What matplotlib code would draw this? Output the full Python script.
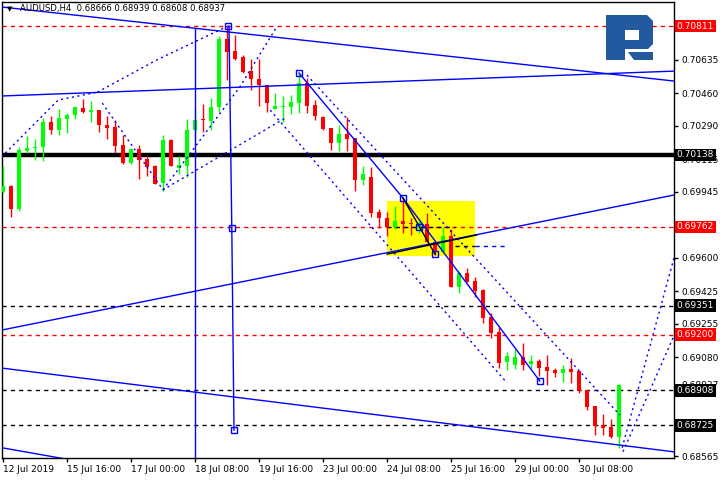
import matplotlib
matplotlib.use("Agg")
import matplotlib.pyplot as plt
from matplotlib.patches import Rectangle, Polygon
import numpy as np

# AUDUSD H4, bar 0 = 12 Jul 2019 08:00, last bar = 30 Jul 2019 20:00
opens = [0.69944, 0.69976, 0.69856, 0.70158, 0.70174, 0.70179, 0.70310, 0.70268, 0.70325, 0.70346,
         0.70383, 0.70362, 0.70372, 0.70294, 0.70284, 0.70190, 0.70096, 0.70169, 0.70117, 0.70080,
         0.69991, 0.70216, 0.70070, 0.70080, 0.70268, 0.70325, 0.70315, 0.70388, 0.70743, 0.70681,
         0.70649, 0.70576, 0.70534, 0.70503, 0.70378, 0.70388, 0.70388, 0.70409, 0.70514, 0.70399,
         0.70336, 0.70278, 0.70200, 0.70247, 0.70226, 0.70007, 0.70023, 0.69840, 0.69808, 0.69761,
         0.69793, 0.69782, 0.69756, 0.69777, 0.69683, 0.69631, 0.69714, 0.69448, 0.69521, 0.69479,
         0.69432, 0.69291, 0.69213, 0.69056, 0.69041, 0.69082, 0.69046, 0.69062, 0.69030, 0.69015,
         0.68999, 0.69020, 0.69009, 0.68910, 0.68826, 0.68727, 0.68717, 0.68666]
highs = [0.70080, 0.69981, 0.70179, 0.70237, 0.70221, 0.70331, 0.70341, 0.70378, 0.70357, 0.70388,
         0.70430, 0.70419, 0.70372, 0.70341, 0.70320, 0.70242, 0.70169, 0.70190, 0.70132, 0.70085,
         0.70242, 0.70221, 0.70132, 0.70325, 0.70378, 0.70404, 0.70435, 0.70759, 0.70811, 0.70764,
         0.70660, 0.70639, 0.70639, 0.70503, 0.70461, 0.70446, 0.70451, 0.70566, 0.70540, 0.70425,
         0.70341, 0.70278, 0.70294, 0.70336, 0.70226, 0.70080, 0.70075, 0.69856, 0.69840, 0.69871,
         0.69913, 0.69808, 0.69793, 0.69834, 0.69683, 0.69761, 0.69751, 0.69532, 0.69547, 0.69500,
         0.69438, 0.69312, 0.69239, 0.69109, 0.69124, 0.69156, 0.69093, 0.69072, 0.69093, 0.69025,
         0.69041, 0.69077, 0.69009, 0.68910, 0.68826, 0.68785, 0.68759, 0.68939]
lows = [0.69939, 0.69814, 0.69845, 0.70148, 0.70111, 0.70106, 0.70247, 0.70242, 0.70252, 0.70325,
        0.70357, 0.70310, 0.70258, 0.70221, 0.70148, 0.70091, 0.70091, 0.70012, 0.70028, 0.69986,
        0.69950, 0.70080, 0.70038, 0.70023, 0.70216, 0.70258, 0.70268, 0.70362, 0.70529, 0.70634,
        0.70566, 0.70477, 0.70393, 0.70362, 0.70378, 0.70310, 0.70352, 0.70357, 0.70357, 0.70320,
        0.70268, 0.70164, 0.70158, 0.70158, 0.69950, 0.69981, 0.69814, 0.69756, 0.69714, 0.69751,
        0.69730, 0.69720, 0.69730, 0.69683, 0.69615, 0.69631, 0.69448, 0.69417, 0.69474, 0.69396,
        0.69260, 0.69182, 0.69025, 0.69015, 0.69020, 0.69015, 0.69025, 0.68983, 0.68936, 0.68978,
        0.68952, 0.68947, 0.68894, 0.68805, 0.68675, 0.68675, 0.68659, 0.68608]
closes = [0.69976, 0.69856, 0.70164, 0.70174, 0.70179, 0.70310, 0.70268, 0.70331, 0.70346, 0.70388,
          0.70362, 0.70372, 0.70294, 0.70278, 0.70185, 0.70096, 0.70169, 0.70111, 0.70075, 0.69986,
          0.70216, 0.70080, 0.70085, 0.70268, 0.70320, 0.70320, 0.70388, 0.70743, 0.70675, 0.70639,
          0.70571, 0.70534, 0.70503, 0.70409, 0.70393, 0.70393, 0.70414, 0.70514, 0.70393, 0.70341,
          0.70273, 0.70200, 0.70247, 0.70221, 0.70007, 0.70038, 0.69834, 0.69808, 0.69761, 0.69793,
          0.69777, 0.69777, 0.69782, 0.69683, 0.69631, 0.69714, 0.69448, 0.69521, 0.69474, 0.69427,
          0.69286, 0.69208, 0.69051, 0.69088, 0.69082, 0.69041, 0.69062, 0.69025, 0.69009, 0.68999,
          0.69020, 0.69004, 0.68905, 0.68821, 0.68722, 0.68712, 0.68666, 0.68937]

date_ticks = [0, 8, 16, 24, 32, 40, 48, 56, 64, 72]
date_labels = ["12 Jul 2019", "15 Jul 16:00", "17 Jul 00:00", "18 Jul 08:00", "19 Jul 16:00",
               "23 Jul 00:00", "24 Jul 08:00", "25 Jul 16:00", "29 Jul 00:00", "30 Jul 08:00"]

price_ticks = [0.70635, 0.70460, 0.70290, 0.70115, 0.69945, 0.69600, 0.69425,
               0.69255, 0.69080, 0.68937, 0.68565]

# horizontal levels and the colour of their line / price box
levels = [0.70811, 0.70138, 0.69762, 0.69351, 0.69200, 0.68908, 0.68725]
level_colors = ["red", "black", "red", "black", "red", "black", "black"]

# trend lines (bar, price)
line_top = [(-0.2, 0.70911), (83.9, 0.70524)]
line_mid = [(-0.2, 0.70446), (83.9, 0.70576)]
line_up = [(-0.2, 0.69223), (83.9, 0.69929)]
line_low = [(-0.2, 0.69025), (83.9, 0.68587)]
line_low2 = [(-0.2, 0.68609), (20.0, 0.68460)]
vline_a = [(24.0, 0.70801), (24.0, 0.68500)]
vline_b = [(28.25, 0.70811), (28.6, 0.69756), (28.875, 0.68701)]
chan_main = [(37.0, 0.70566), (50.0, 0.69913), (67.1, 0.68957)]
tri_black = [(50.0, 0.69913), (54.0, 0.69620)]
black_up = [(48.0, 0.69620), (59.2, 0.69720)]
stop_black = [(56.5, 0.69662), (59.0, 0.69662)]
stop_blue = [(59.0, 0.69662), (63.0, 0.69662)]
level_in_box = [(48.0, 0.69762), (56.5, 0.69762)]
markers = [(28.1, 0.70811), (28.6, 0.69756), (28.875, 0.68701), (37.0, 0.70566),
           (50.0, 0.69913), (52.0, 0.69761), (54.0, 0.69620), (67.1, 0.68957)]

# dotted construction lines (bar, price)
dotted = [
    [(-0.2, 0.70127), (6.9, 0.70425), (11.8, 0.70466)],
    [(12.4, 0.70409), (20.0, 0.69956), (24.2, 0.70059), (35.5, 0.70336)],
    [(20.0, 0.69956), (29.6, 0.70493), (34.2, 0.70806)],
    [(11.8, 0.70466), (19.2, 0.70634), (28.1, 0.70811)],
    [(38.0, 0.70555), (77.1, 0.68780)],
    [(33.4, 0.70372), (63.0, 0.68947)],
    [(77.4, 0.68609), (83.9, 0.69604)],
    [(77.5, 0.68588), (83.9, 0.69197)],
]

box_x = (48.0, 59.0)
box_y = (0.69610, 0.69897)

GREEN = "#00ff00"
RED = "#ff0000"
BLUE = "#0000ff"

fig = plt.figure(figsize=(7.2, 4.8), dpi=100)
ax = fig.add_axes([2 / 720, 22 / 480, 672 / 720, 456 / 480])
ax.set_xlim(-0.125, 83.875)
ax.set_ylim(0.68555, 0.70937)

# yellow zone behind everything
ax.add_patch(Rectangle((box_x[0], box_y[0]), box_x[1] - box_x[0], box_y[1] - box_y[0],
                       facecolor="#ffff00", edgecolor="none", zorder=0.5))

# levels
for lv, col in zip(levels, level_colors):
    if lv == 0.70138:
        ax.axhline(lv, color="black", lw=3.2, zorder=1)
    else:
        ax.axhline(lv, color=col, lw=1, ls=(0, (3, 3)), zorder=1)

# candles
x = np.arange(len(opens))
o = np.array(opens)
c = np.array(closes)
cols = np.where(c >= o, GREEN, RED)
ax.vlines(x, lows, highs, colors=cols, lw=1, zorder=3)
body = np.maximum(np.abs(c - o), 0.00003)
ax.bar(x, body, bottom=np.minimum(o, c), width=0.62, color=cols, zorder=3)

# trend lines
for pts in [line_top, line_mid, line_up, line_low, line_low2, vline_a, vline_b, chan_main]:
    xs, ys = zip(*pts)
    ax.plot(xs, ys, color=BLUE, lw=1, zorder=4)
for pts in [tri_black, black_up]:
    xs, ys = zip(*pts)
    ax.plot(xs, ys, color="black", lw=1, zorder=4)
for pts, col in [(stop_black, "black"), (stop_blue, BLUE), (level_in_box, "black")]:
    xs, ys = zip(*pts)
    ax.plot(xs, ys, color=col, lw=1, ls=(0, (3, 3)), zorder=1.5)
for pts in dotted:
    xs, ys = zip(*pts)
    ax.plot(xs, ys, color=BLUE, lw=1, ls=(0, (1.5, 2.5)), zorder=4)
mx, my = zip(*markers)
ax.plot(mx, my, ls="none", marker="s", ms=4, mfc="none", mec=BLUE, mew=1, zorder=5)

# axes styling
for s in ax.spines.values():
    s.set_color("black")
    s.set_linewidth(1)
ax.yaxis.tick_right()
ax.set_yticks(price_ticks)
ax.set_yticklabels([f"{p:.5f}" for p in price_ticks])
ax.tick_params(axis="y", length=3, width=1, pad=2, labelsize=6.5, colors="black")
ax.set_xticks(date_ticks)
ax.set_xticklabels(date_labels, ha="left")
ax.tick_params(axis="x", length=3, width=1, pad=2, labelsize=6.5)

for lv, col in zip(levels, level_colors):
    ax.text(1.004, lv, f"{lv:.5f}", transform=ax.get_yaxis_transform(), ha="left", va="center",
            fontsize=6.5, color="white", clip_on=False, zorder=10,
            bbox=dict(boxstyle="square,pad=0.2", fc=col, ec="none"))

# header
fig.text(7 / 720, 1 - 9 / 480, "\u25bc", fontsize=5, va="center", ha="left")
fig.text(20 / 720, 1 - 9 / 480, "AUDUSD,H4  0.68666 0.68939 0.68608 0.68937",
         fontsize=6.1, va="center", ha="left")

# logo
lax = fig.add_axes([606 / 720, 1 - 60 / 480, 47 / 720, 45 / 480])
lax.set_xlim(0, 47)
lax.set_ylim(45, 0)
lax.axis("off")
bowl = [(0, 0), (41, 0), (47, 6), (47, 29), (42, 34), (19, 34), (19, 25), (33, 25), (33, 15),
        (19, 15), (19, 45), (0, 45)]
foot = [(22, 37), (47, 37), (47, 45), (28, 45)]
for shp in [bowl, foot]:
    lax.add_patch(Polygon(shp, closed=True, fc="#22599f", ec="none"))

fig.savefig("out.png", dpi=100)
